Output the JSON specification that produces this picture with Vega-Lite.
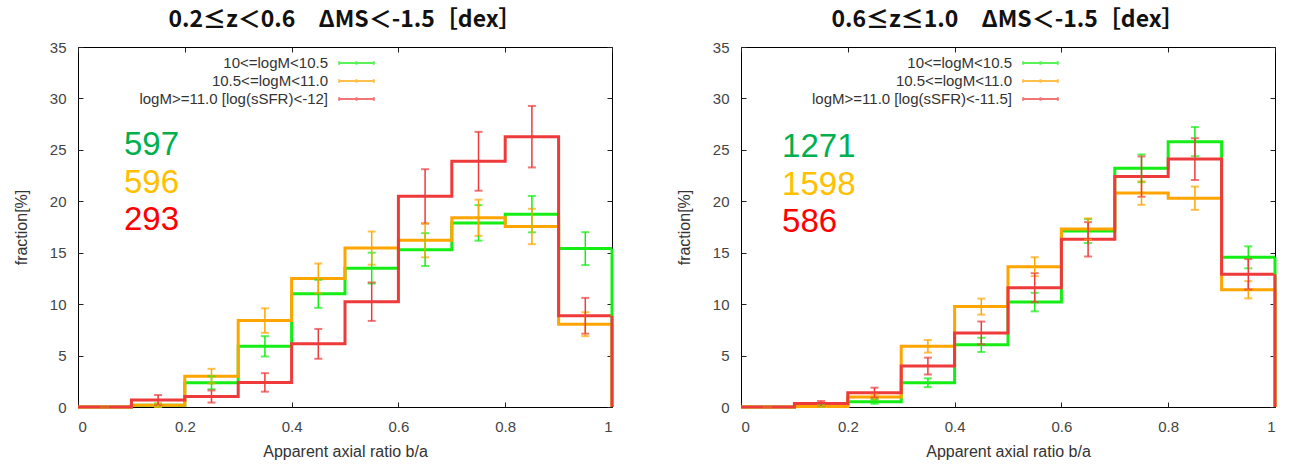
{
  "$schema": "https://vega.github.io/schema/vega-lite/v6.json",
  "background": "white",
  "padding": {"left": 12, "top": 8, "right": 5, "bottom": 2},
  "spacing": 129,
  "bounds": "flush",
  "resolve": {"scale": {"color": "independent"}, "legend": {"color": "independent"}},
  "config": {
    "view": {"stroke": "#000", "strokeWidth": 1},
    "font": "Liberation Sans",
    "axis": {
      "labelFont": "Liberation Sans", "labelFontSize": 15, "labelColor": "#444",
      "titleFont": "Liberation Sans", "titleFontSize": 16, "titleFontWeight": "normal", "titleColor": "#333",
      "grid": false, "domain": false, "tickColor": "#222", "tickSize": -5, "tickWidth": 1
    },
    "title": {"font": "Noto Sans CJK JP", "fontSize": 23, "fontWeight": "bold", "color": "#111", "anchor": "middle", "offset": 8}
  },
  "datasets": {
    "hist": [
      {"p": 1, "label": "10<=logM<10.5", "lo": 0.0, "hi": 0.1, "mid": 0.05, "val": 0, "err": 0},
      {"p": 1, "label": "10<=logM<10.5", "lo": 0.1, "hi": 0.2, "mid": 0.15, "val": 0.17, "err": 0.17},
      {"p": 1, "label": "10<=logM<10.5", "lo": 0.2, "hi": 0.3, "mid": 0.25, "val": 2.36, "err": 0.63},
      {"p": 1, "label": "10<=logM<10.5", "lo": 0.3, "hi": 0.4, "mid": 0.35, "val": 5.9, "err": 0.99},
      {"p": 1, "label": "10<=logM<10.5", "lo": 0.4, "hi": 0.5, "mid": 0.45, "val": 11.0, "err": 1.36},
      {"p": 1, "label": "10<=logM<10.5", "lo": 0.5, "hi": 0.6, "mid": 0.55, "val": 13.5, "err": 1.5},
      {"p": 1, "label": "10<=logM<10.5", "lo": 0.6, "hi": 0.7, "mid": 0.65, "val": 15.3, "err": 1.6},
      {"p": 1, "label": "10<=logM<10.5", "lo": 0.7, "hi": 0.8, "mid": 0.75, "val": 17.9, "err": 1.73},
      {"p": 1, "label": "10<=logM<10.5", "lo": 0.8, "hi": 0.9, "mid": 0.85, "val": 18.75, "err": 1.77},
      {"p": 1, "label": "10<=logM<10.5", "lo": 0.9, "hi": 1.0, "mid": 0.95, "val": 15.4, "err": 1.6},
      {"p": 1, "label": "10.5<=logM<11.0", "lo": 0.0, "hi": 0.1, "mid": 0.05, "val": 0, "err": 0},
      {"p": 1, "label": "10.5<=logM<11.0", "lo": 0.1, "hi": 0.2, "mid": 0.15, "val": 0.17, "err": 0.17},
      {"p": 1, "label": "10.5<=logM<11.0", "lo": 0.2, "hi": 0.3, "mid": 0.25, "val": 3.0, "err": 0.71},
      {"p": 1, "label": "10.5<=logM<11.0", "lo": 0.3, "hi": 0.4, "mid": 0.35, "val": 8.4, "err": 1.19},
      {"p": 1, "label": "10.5<=logM<11.0", "lo": 0.4, "hi": 0.5, "mid": 0.45, "val": 12.5, "err": 1.45},
      {"p": 1, "label": "10.5<=logM<11.0", "lo": 0.5, "hi": 0.6, "mid": 0.55, "val": 15.45, "err": 1.61},
      {"p": 1, "label": "10.5<=logM<11.0", "lo": 0.6, "hi": 0.7, "mid": 0.65, "val": 16.2, "err": 1.65},
      {"p": 1, "label": "10.5<=logM<11.0", "lo": 0.7, "hi": 0.8, "mid": 0.75, "val": 18.4, "err": 1.76},
      {"p": 1, "label": "10.5<=logM<11.0", "lo": 0.8, "hi": 0.9, "mid": 0.85, "val": 17.55, "err": 1.72},
      {"p": 1, "label": "10.5<=logM<11.0", "lo": 0.9, "hi": 1.0, "mid": 0.95, "val": 8.05, "err": 1.16},
      {"p": 1, "label": "logM>=11.0 [log(sSFR)<-12]", "lo": 0.0, "hi": 0.1, "mid": 0.05, "val": 0, "err": 0},
      {"p": 1, "label": "logM>=11.0 [log(sSFR)<-12]", "lo": 0.1, "hi": 0.2, "mid": 0.15, "val": 0.68, "err": 0.48},
      {"p": 1, "label": "logM>=11.0 [log(sSFR)<-12]", "lo": 0.2, "hi": 0.3, "mid": 0.25, "val": 1.02, "err": 0.59},
      {"p": 1, "label": "logM>=11.0 [log(sSFR)<-12]", "lo": 0.3, "hi": 0.4, "mid": 0.35, "val": 2.39, "err": 0.9},
      {"p": 1, "label": "logM>=11.0 [log(sSFR)<-12]", "lo": 0.4, "hi": 0.5, "mid": 0.45, "val": 6.14, "err": 1.45},
      {"p": 1, "label": "logM>=11.0 [log(sSFR)<-12]", "lo": 0.5, "hi": 0.6, "mid": 0.55, "val": 10.24, "err": 1.87},
      {"p": 1, "label": "logM>=11.0 [log(sSFR)<-12]", "lo": 0.6, "hi": 0.7, "mid": 0.65, "val": 20.48, "err": 2.64},
      {"p": 1, "label": "logM>=11.0 [log(sSFR)<-12]", "lo": 0.7, "hi": 0.8, "mid": 0.75, "val": 23.89, "err": 2.86},
      {"p": 1, "label": "logM>=11.0 [log(sSFR)<-12]", "lo": 0.8, "hi": 0.9, "mid": 0.85, "val": 26.28, "err": 2.99},
      {"p": 1, "label": "logM>=11.0 [log(sSFR)<-12]", "lo": 0.9, "hi": 1.0, "mid": 0.95, "val": 8.87, "err": 1.74},
      {"p": 2, "label": "10<=logM<10.5", "lo": 0.0, "hi": 0.1, "mid": 0.05, "val": 0, "err": 0},
      {"p": 2, "label": "10<=logM<10.5", "lo": 0.1, "hi": 0.2, "mid": 0.15, "val": 0.08, "err": 0.08},
      {"p": 2, "label": "10<=logM<10.5", "lo": 0.2, "hi": 0.3, "mid": 0.25, "val": 0.52, "err": 0.2},
      {"p": 2, "label": "10<=logM<10.5", "lo": 0.3, "hi": 0.4, "mid": 0.35, "val": 2.36, "err": 0.43},
      {"p": 2, "label": "10<=logM<10.5", "lo": 0.4, "hi": 0.5, "mid": 0.45, "val": 6.04, "err": 0.69},
      {"p": 2, "label": "10<=logM<10.5", "lo": 0.5, "hi": 0.6, "mid": 0.55, "val": 10.2, "err": 0.9},
      {"p": 2, "label": "10<=logM<10.5", "lo": 0.6, "hi": 0.7, "mid": 0.65, "val": 17.1, "err": 1.16},
      {"p": 2, "label": "10<=logM<10.5", "lo": 0.7, "hi": 0.8, "mid": 0.75, "val": 23.2, "err": 1.35},
      {"p": 2, "label": "10<=logM<10.5", "lo": 0.8, "hi": 0.9, "mid": 0.85, "val": 25.8, "err": 1.42},
      {"p": 2, "label": "10<=logM<10.5", "lo": 0.9, "hi": 1.0, "mid": 0.95, "val": 14.55, "err": 1.07},
      {"p": 2, "label": "10.5<=logM<11.0", "lo": 0.0, "hi": 0.1, "mid": 0.05, "val": 0, "err": 0},
      {"p": 2, "label": "10.5<=logM<11.0", "lo": 0.1, "hi": 0.2, "mid": 0.15, "val": 0.06, "err": 0.06},
      {"p": 2, "label": "10.5<=logM<11.0", "lo": 0.2, "hi": 0.3, "mid": 0.25, "val": 0.97, "err": 0.25},
      {"p": 2, "label": "10.5<=logM<11.0", "lo": 0.3, "hi": 0.4, "mid": 0.35, "val": 5.9, "err": 0.61},
      {"p": 2, "label": "10.5<=logM<11.0", "lo": 0.4, "hi": 0.5, "mid": 0.45, "val": 9.76, "err": 0.78},
      {"p": 2, "label": "10.5<=logM<11.0", "lo": 0.5, "hi": 0.6, "mid": 0.55, "val": 13.64, "err": 0.92},
      {"p": 2, "label": "10.5<=logM<11.0", "lo": 0.6, "hi": 0.7, "mid": 0.65, "val": 17.3, "err": 1.04},
      {"p": 2, "label": "10.5<=logM<11.0", "lo": 0.7, "hi": 0.8, "mid": 0.75, "val": 20.8, "err": 1.14},
      {"p": 2, "label": "10.5<=logM<11.0", "lo": 0.8, "hi": 0.9, "mid": 0.85, "val": 20.3, "err": 1.13},
      {"p": 2, "label": "10.5<=logM<11.0", "lo": 0.9, "hi": 1.0, "mid": 0.95, "val": 11.4, "err": 0.84},
      {"p": 2, "label": "logM>=11.0 [log(sSFR)<-11.5]", "lo": 0.0, "hi": 0.1, "mid": 0.05, "val": 0, "err": 0},
      {"p": 2, "label": "logM>=11.0 [log(sSFR)<-11.5]", "lo": 0.1, "hi": 0.2, "mid": 0.15, "val": 0.34, "err": 0.24},
      {"p": 2, "label": "logM>=11.0 [log(sSFR)<-11.5]", "lo": 0.2, "hi": 0.3, "mid": 0.25, "val": 1.39, "err": 0.49},
      {"p": 2, "label": "logM>=11.0 [log(sSFR)<-11.5]", "lo": 0.3, "hi": 0.4, "mid": 0.35, "val": 3.98, "err": 0.82},
      {"p": 2, "label": "logM>=11.0 [log(sSFR)<-11.5]", "lo": 0.4, "hi": 0.5, "mid": 0.45, "val": 7.2, "err": 1.11},
      {"p": 2, "label": "logM>=11.0 [log(sSFR)<-11.5]", "lo": 0.5, "hi": 0.6, "mid": 0.55, "val": 11.6, "err": 1.41},
      {"p": 2, "label": "logM>=11.0 [log(sSFR)<-11.5]", "lo": 0.6, "hi": 0.7, "mid": 0.65, "val": 16.3, "err": 1.67},
      {"p": 2, "label": "logM>=11.0 [log(sSFR)<-11.5]", "lo": 0.7, "hi": 0.8, "mid": 0.75, "val": 22.4, "err": 1.96},
      {"p": 2, "label": "logM>=11.0 [log(sSFR)<-11.5]", "lo": 0.8, "hi": 0.9, "mid": 0.85, "val": 24.1, "err": 2.03},
      {"p": 2, "label": "logM>=11.0 [log(sSFR)<-11.5]", "lo": 0.9, "hi": 1.0, "mid": 0.95, "val": 12.9, "err": 1.48}
    ],
    "counts": [
      {"p": 1, "s": "a", "n": 597},
      {"p": 1, "s": "b", "n": 596},
      {"p": 1, "s": "c", "n": 293},
      {"p": 2, "s": "a", "n": 1271},
      {"p": 2, "s": "b", "n": 1598},
      {"p": 2, "s": "c", "n": 586}
    ]
  },
  "hconcat": [
    {
      "width": 534, "height": 360,
      "title": {"text": "0.2≤z＜0.6　ΔMS＜-1.5［dex］"},
      "resolve": {"axis": {"x": "independent", "y": "independent"}},
      "layer": [
        {
          "data": {"name": "hist"},
          "transform": [{"filter": "datum.p == 1"}, {"fold": ["lo", "hi"], "as": ["edge", "xv"]}],
          "mark": {"type": "line", "strokeWidth": 3},
          "encoding": {
            "x": {"field": "xv", "type": "quantitative", "scale": {"domain": [0, 1], "nice": false},
                  "axis": {"values": [0, 0.2, 0.4, 0.6, 0.8, 1], "format": "~g", "title": "Apparent axial ratio b/a", "labelPadding": 17, "titlePadding": 9}},
            "y": {"field": "val", "type": "quantitative", "scale": {"domain": [0, 35], "nice": false},
                  "axis": {"values": [0, 5, 10, 15, 20, 25, 30, 35], "title": "fraction[%]", "labelPadding": 17, "titlePadding": 20}},
            "color": {"field": "label", "type": "nominal",
                      "scale": {"domain": ["10<=logM<10.5", "10.5<=logM<11.0", "logM>=11.0 [log(sSFR)<-12]"], "range": ["#14ee14", "#ffa500", "#ee3a3a"]},
                      "legend": {"orient": "none", "legendX": 271, "legendY": 8.5, "title": null, "padding": 0,
                                 "symbolType": "M-5,0H5M-5,-0.5V0.5M0,-0.5V0.5M5,-0.5V0.5", "symbolSize": 48, "symbolStrokeWidth": 2,
                                 "labelAlign": "right", "labelOffset": -36, "labelFont": "Liberation Sans", "labelFontSize": 15, "labelColor": "#333",
                                 "labelLimit": 400, "rowPadding": 2}},
            "order": [{"field": "xv", "type": "quantitative"}, {"field": "edge", "type": "nominal"}]
          }
        },
        {
          "data": {"name": "hist"},
          "transform": [{"filter": "datum.p == 1"}],
          "mark": {"type": "errorbar", "ticks": {"size": 8, "thickness": 2}, "rule": {"strokeWidth": 1.5}},
          "encoding": {
            "x": {"field": "mid", "type": "quantitative", "scale": {"domain": [0, 1], "nice": false},
                  "axis": {"orient": "top", "labels": false, "title": null, "values": [0, 0.2, 0.4, 0.6, 0.8, 1]}},
            "y": {"field": "val", "type": "quantitative", "scale": {"domain": [0, 35], "nice": false},
                  "axis": {"orient": "right", "labels": false, "title": null, "values": [0, 5, 10, 15, 20, 25, 30, 35]}},
            "yError": {"field": "err"},
            "color": {"field": "label", "type": "nominal"}
          }
        },
        {
          "data": {"name": "hist"},
          "transform": [{"filter": "datum.p == 1 && datum.hi == 1"}],
          "mark": {"type": "rule", "strokeWidth": 3},
          "encoding": {
            "x": {"field": "hi", "type": "quantitative", "axis": null},
            "y": {"field": "val", "type": "quantitative", "axis": null},
            "y2": {"datum": 0},
            "color": {"field": "label", "type": "nominal"}
          }
        },
        {
          "data": {"name": "counts"},
          "transform": [{"filter": "datum.p == 1 && datum.s == 'a'"}],
          "mark": {"type": "text", "align": "left", "baseline": "middle", "font": "Liberation Sans", "fontSize": 33, "color": "#00b050"},
          "encoding": {"x": {"datum": 0.086, "type": "quantitative", "axis": null}, "y": {"datum": 25.5, "type": "quantitative", "axis": null}, "text": {"field": "n"}}
        },
        {
          "data": {"name": "counts"},
          "transform": [{"filter": "datum.p == 1 && datum.s == 'b'"}],
          "mark": {"type": "text", "align": "left", "baseline": "middle", "font": "Liberation Sans", "fontSize": 33, "color": "#ffc000"},
          "encoding": {"x": {"datum": 0.086, "type": "quantitative", "axis": null}, "y": {"datum": 21.8, "type": "quantitative", "axis": null}, "text": {"field": "n"}}
        },
        {
          "data": {"name": "counts"},
          "transform": [{"filter": "datum.p == 1 && datum.s == 'c'"}],
          "mark": {"type": "text", "align": "left", "baseline": "middle", "font": "Liberation Sans", "fontSize": 33, "color": "#ff0000"},
          "encoding": {"x": {"datum": 0.086, "type": "quantitative", "axis": null}, "y": {"datum": 18.2, "type": "quantitative", "axis": null}, "text": {"field": "n"}}
        }
      ]
    },
    {
      "width": 534, "height": 360,
      "title": {"text": "0.6≤z≤1.0　ΔMS＜-1.5［dex］"},
      "resolve": {"axis": {"x": "independent", "y": "independent"}},
      "layer": [
        {
          "data": {"name": "hist"},
          "transform": [{"filter": "datum.p == 2"}, {"fold": ["lo", "hi"], "as": ["edge", "xv"]}],
          "mark": {"type": "line", "strokeWidth": 3},
          "encoding": {
            "x": {"field": "xv", "type": "quantitative", "scale": {"domain": [0, 1], "nice": false},
                  "axis": {"values": [0, 0.2, 0.4, 0.6, 0.8, 1], "format": "~g", "title": "Apparent axial ratio b/a", "labelPadding": 17, "titlePadding": 9}},
            "y": {"field": "val", "type": "quantitative", "scale": {"domain": [0, 35], "nice": false},
                  "axis": {"values": [0, 5, 10, 15, 20, 25, 30, 35], "title": "fraction[%]", "labelPadding": 17, "titlePadding": 20}},
            "color": {"field": "label", "type": "nominal",
                      "scale": {"domain": ["10<=logM<10.5", "10.5<=logM<11.0", "logM>=11.0 [log(sSFR)<-11.5]"], "range": ["#14ee14", "#ffa500", "#ee3a3a"]},
                      "legend": {"orient": "none", "legendX": 292, "legendY": 8.5, "title": null, "padding": 0,
                                 "symbolType": "M-5,0H5M-5,-0.5V0.5M0,-0.5V0.5M5,-0.5V0.5", "symbolSize": 48, "symbolStrokeWidth": 2,
                                 "labelAlign": "right", "labelOffset": -36, "labelFont": "Liberation Sans", "labelFontSize": 15, "labelColor": "#333",
                                 "labelLimit": 400, "rowPadding": 2}},
            "order": [{"field": "xv", "type": "quantitative"}, {"field": "edge", "type": "nominal"}]
          }
        },
        {
          "data": {"name": "hist"},
          "transform": [{"filter": "datum.p == 2"}],
          "mark": {"type": "errorbar", "ticks": {"size": 8, "thickness": 2}, "rule": {"strokeWidth": 1.5}},
          "encoding": {
            "x": {"field": "mid", "type": "quantitative", "scale": {"domain": [0, 1], "nice": false},
                  "axis": {"orient": "top", "labels": false, "title": null, "values": [0, 0.2, 0.4, 0.6, 0.8, 1]}},
            "y": {"field": "val", "type": "quantitative", "scale": {"domain": [0, 35], "nice": false},
                  "axis": {"orient": "right", "labels": false, "title": null, "values": [0, 5, 10, 15, 20, 25, 30, 35]}},
            "yError": {"field": "err"},
            "color": {"field": "label", "type": "nominal"}
          }
        },
        {
          "data": {"name": "hist"},
          "transform": [{"filter": "datum.p == 2 && datum.hi == 1"}],
          "mark": {"type": "rule", "strokeWidth": 3},
          "encoding": {
            "x": {"field": "hi", "type": "quantitative", "axis": null},
            "y": {"field": "val", "type": "quantitative", "axis": null},
            "y2": {"datum": 0},
            "color": {"field": "label", "type": "nominal"}
          }
        },
        {
          "data": {"name": "counts"},
          "transform": [{"filter": "datum.p == 2 && datum.s == 'a'"}],
          "mark": {"type": "text", "align": "left", "baseline": "middle", "font": "Liberation Sans", "fontSize": 33, "color": "#00b050"},
          "encoding": {"x": {"datum": 0.077, "type": "quantitative", "axis": null}, "y": {"datum": 25.3, "type": "quantitative", "axis": null}, "text": {"field": "n"}}
        },
        {
          "data": {"name": "counts"},
          "transform": [{"filter": "datum.p == 2 && datum.s == 'b'"}],
          "mark": {"type": "text", "align": "left", "baseline": "middle", "font": "Liberation Sans", "fontSize": 33, "color": "#ffc000"},
          "encoding": {"x": {"datum": 0.077, "type": "quantitative", "axis": null}, "y": {"datum": 21.6, "type": "quantitative", "axis": null}, "text": {"field": "n"}}
        },
        {
          "data": {"name": "counts"},
          "transform": [{"filter": "datum.p == 2 && datum.s == 'c'"}],
          "mark": {"type": "text", "align": "left", "baseline": "middle", "font": "Liberation Sans", "fontSize": 33, "color": "#ff0000"},
          "encoding": {"x": {"datum": 0.077, "type": "quantitative", "axis": null}, "y": {"datum": 18.0, "type": "quantitative", "axis": null}, "text": {"field": "n"}}
        }
      ]
    }
  ]
}
